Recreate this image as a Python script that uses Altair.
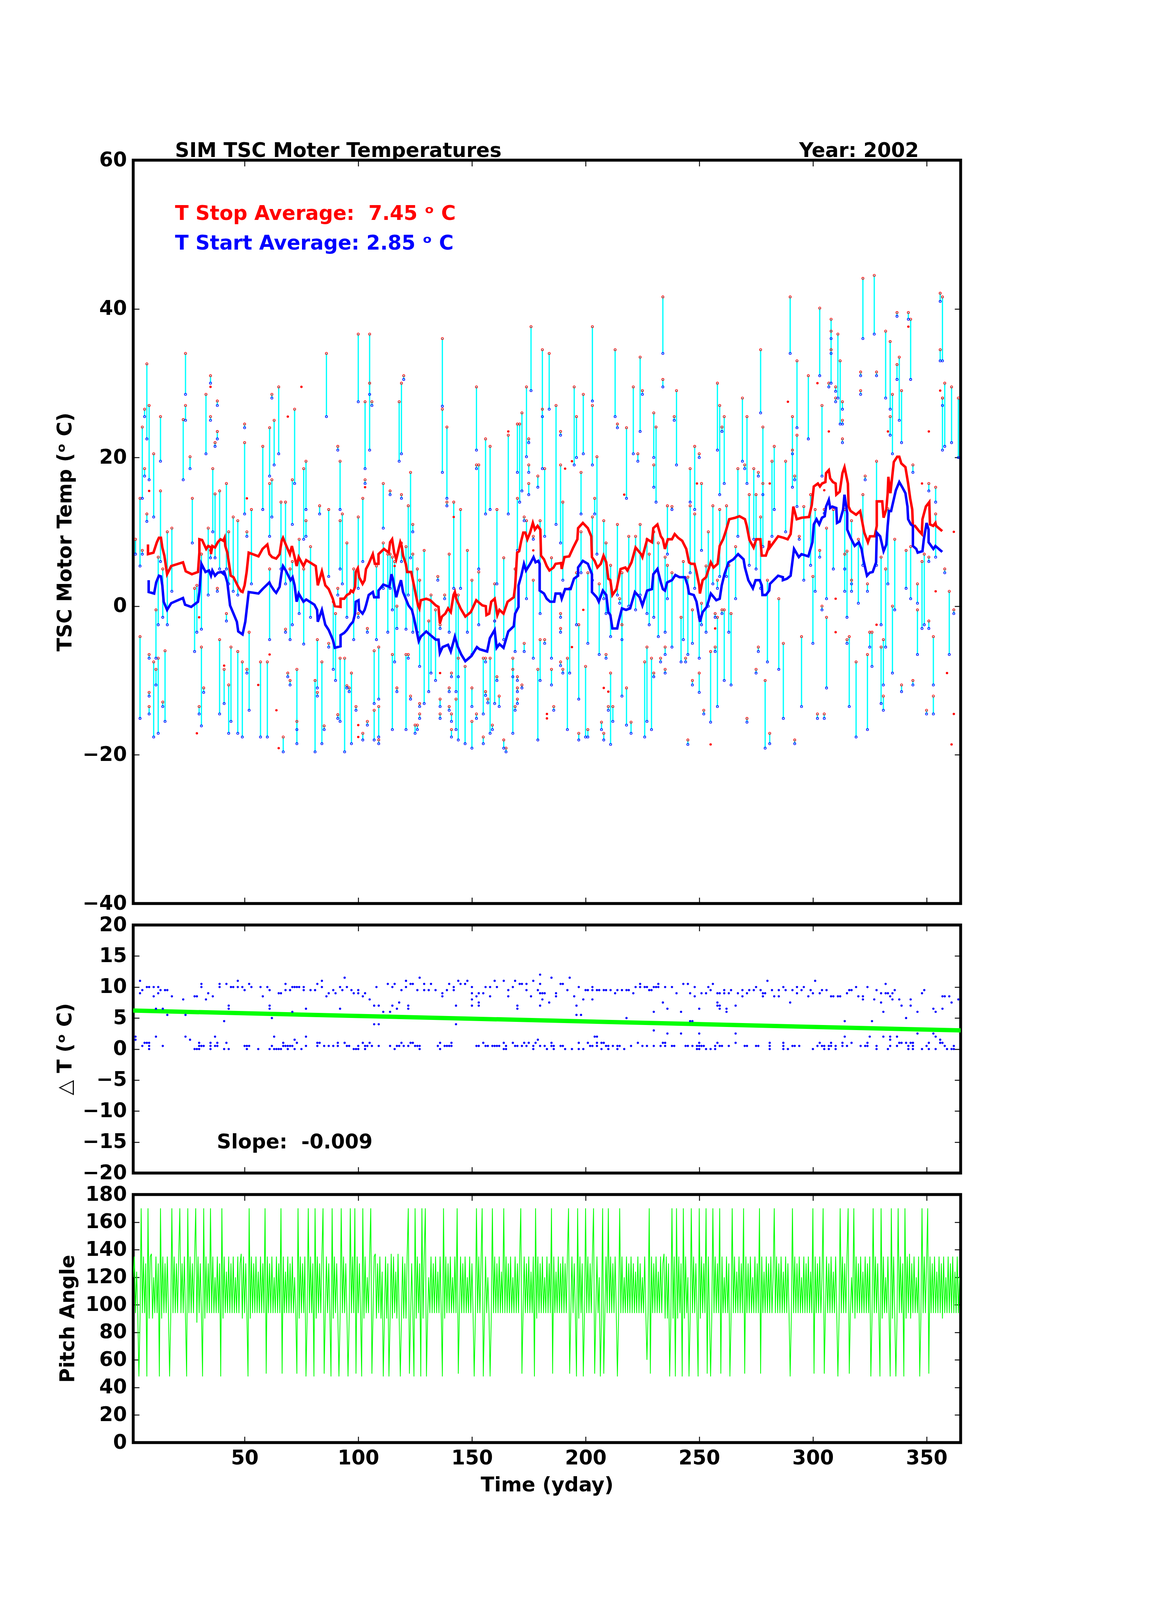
import altair as alt
import pandas as pd

FONT = "DejaVu Sans"

# ---------------- data ----------------
# TSC motor events: (yday, T stop, T start)
events = [
(2,9.0,7.0),(4,14.5,5.4),(4,-4.1,-15.1),(5,24.1,14.5),(5,7.5,7.0),(6,26.5,25.5),(6,18.5,17.5),
(7,32.6,22.5),(7,12.4,11.4),(8,27.0,17.0),(8,-6.5,-7.0),(8,-11.6,-12.1),(8,-13.5,-14.5),
(10,20.5,12.0),(10,-7.5,-17.6),(11,-0.5,-7.0),(11,-8.5,-10.6),(12,6.6,-2.5),(12,-7.0,-17.1),
(13,25.5,19.5),(13,15.5,6.0),(14,5.0,-1.5),(14,-12.9,-13.5),(15,-6.0,-15.5),(16,10.0,-2.5),
(18,10.5,2.0),(23,25.1,17.0),(24,34.0,28.5),(24,27.0,25.0),(26,20.1,18.5),(27,14.5,8.5),
(28,2.4,-6.1),(29,2.8,-3.5),(30,-13.5,-14.5),(31,7.0,-3.1),(31,-5.5,-16.1),(32,-11.0,-11.6),
(33,28.5,20.5),(34,10.5,1.5),(35,31.0,30.0),(35,25.5,25.0),(35,7.5,6.5),(36,18.5,10.0),
(37,15.1,6.5),(37,22.0,21.5),(38,27.6,27.0),(38,23.5,22.5),(38,2.4,2.0),(39,15.5,5.0),
(39,-4.5,-14.5),(41,-8.5,-13.1),(42,16.5,5.0),(42,-1.0,-2.0),(43,10.0,3.0),(43,-10.6,-17.1),
(44,-5.5,-15.5),(45,12.0,2.0),(47,11.5,1.5),(47,-6.1,-17.1),(49,-7.5,-17.6),(50,24.5,24.0),
(50,22.0,12.4),(51,10.0,9.4),(51,-8.5,-9.0),(52,-3.5,-14.0),(53,13.0,3.0),(57,-7.5,-17.6),
(58,21.5,13.0),(60,-7.5,-17.6),(61,24.0,17.5),(61,16.5,9.4),(61,5.0,-4.5),(62,28.5,28.0),
(62,17.0,12.0),(63,25.0,19.0),(65,29.5,20.5),(66,14.0,5.0),(67,-17.6,-19.6),(68,14.0,3.0),
(68,-3.1,-3.5),(69,-9.0,-9.5),(70,5.0,-4.5),(70,-10.0,-10.6),(71,17.0,11.0),(71,6.0,-2.5),
(72,26.5,16.5),(73,-8.5,-18.5),(73,-15.5,-16.6),(74,9.0,-1.0),(76,18.5,9.0),(76,5.0,-5.1),
(77,19.5,13.0),(77,11.5,9.4),(79,8.0,-1.5),(81,-10.0,-19.6),(82,-4.5,-11.0),(82,-11.6,-12.1),
(83,13.5,12.4),(84,-7.5,-18.5),(85,-16.1,-16.6),(86,34.0,25.5),(87,13.0,4.0),(87,-5.0,-5.5),
(89,0.6,-8.5),(90,-1.0,-10.0),(91,21.5,21.0),(91,2.4,1.5),(91,-14.6,-15.1),(92,19.5,13.0),
(92,11.5,5.0),(92,-7.0,-15.5),(93,12.4,3.0),(94,-7.0,-19.6),
(95,8.5,-1.5),(95,-10.7,-11.0),(96,-11.0,-11.5),(97,-9.0,-18.5),(98,5.0,-4.5),(99,-13.5,-14.0),
(100,36.6,27.5),(100,12.0,2.4),(100,-1.0,-1.5),(102,14.5,6.0),(102,-17.1,-18.0),(103,27.5,18.5),
(103,17.0,16.5),(104,-3.0,-3.5),(104,-15.5,-16.0),(105,36.6,28.5),(105,30.0,21.0),(106,27.5,27.0),
(107,-6.0,-13.1),(107,-14.0,-18.0),(108,5.4,-4.5),(109,-5.5,-12.5),(109,-13.5,-17.6),(109,-18.0,-18.5),
(111,16.5,10.5),(111,8.5,2.4),(113,7.0,-3.5),(114,15.5,15.0),(114,7.0,2.4),(115,6.6,-0.5),
(115,-6.5,-16.6),(116,6.0,-7.5),(117,0.0,-3.0),(117,-11.0,-11.5),(118,27.5,19.5),(119,30.0,20.5),
(119,15.0,14.5),(119,8.5,6.0),(120,31.0,30.5),(121,8.0,-3.1),(121,-6.5,-16.6),(122,13.5,1.5),
(122,-6.5,-7.0),(123,18.0,6.5),(123,-12.1,-12.5),(124,7.0,-3.5),(124,11.0,10.0),(125,-16.0,-17.1),
(126,5.0,-3.5),(126,-16.0,-16.6),(127,3.5,-8.1),(127,-13.1,-13.5),(127,-14.5,-15.1),(129,7.5,-13.1),
(131,-2.0,-11.5),(132,1.5,-9.0),(134,-0.5,-10.0),(135,4.0,3.5),(136,-12.5,-13.5),(136,-14.5,-15.1),
(136,-2.5,-3.0),(137,36.0,26.9),(137,26.5,18.0),(138,1.5,1.0),(139,24.1,14.5),(139,14.0,13.5),
(140,7.0,-3.5),(140,-11.0,-11.5),(140,-13.5,-14.0),(141,-9.0,-9.5),(141,-14.5,-15.5),(141,-16.6,-17.6),
(142,14.0,2.4),(143,1.5,-11.5),(143,-12.5,-16.6),(144,1.5,-9.5),(144,-7.0,-18.0),(145,13.0,2.4),
(147,-8.1,-18.5),(148,7.5,-3.5),(150,3.5,-6.5),(150,-11.0,-13.5),(150,-15.5,-19.1),(152,29.5,21.0),
(152,19.0,18.5),(152,-14.5,-15.1),(153,19.0,5.0),(153,4.6,-2.5),(155,-7.0,-14.5),(155,-17.6,-18.5),
(156,22.5,12.4),(156,-7.0,-7.5),(156,-11.5,-12.0),(157,-12.5,-13.0),(158,21.5,13.0),(158,-7.0,-17.1),
(159,-16.0,-16.6),(160,3.0,-2.0),(160,-2.0,-13.1),(161,13.0,3.0),(161,-9.5,-10.0),(162,-12.1,-13.5),
(164,6.5,-4.5),(164,-18.0,-19.1),(165,-19.1,-19.6),(166,23.0,12.4),(168,-7.0,-17.1),(168,-8.5,-9.5),
(169,5.0,-6.1),(169,-13.5,-14.0),(170,24.5,18.0),(170,14.5,7.5),(170,-9.5,-10.0),(170,-11.0,-11.5),
(170,-12.5,-13.1),(171,24.5,14.0),(172,26.0,15.5),(172,-10.6,-11.0),(173,12.0,11.5),(173,-5.0,-6.1),
(174,29.5,20.1),(174,11.5,1.0),(175,22.5,22.0),(175,19.0,18.0),(175,16.5,15.0),(176,37.6,29.0),
(177,9.4,9.0),(177,3.5,-7.0),(179,17.5,16.0),(179,-8.5,-18.0),(180,11.5,-1.0),(180,-4.5,-10.0),
(181,34.5,25.5),(181,26.5,18.5),(182,18.5,9.4),(182,-4.5,-5.0),(184,34.0,26.5),(185,6.5,-7.0),
(185,-8.5,-10.6),(186,-13.5,-14.0),(187,27.0,11.0),(189,23.5,23.0),(189,19.0,8.5),(189,-1.0,-1.5),
(189,-3.0,-3.5),(189,-7.5,-8.0),(190,14.0,3.5),(190,-8.5,-9.0),(192,-7.0,-16.6),(193,2.4,-9.0),
(195,29.5,19.0),(196,25.5,20.0),(196,4.5,-2.5),(197,-2.5,-12.5),(197,-17.1,-18.0),(198,18.0,12.4),
(198,10.0,4.5),(199,28.5,20.5),(200,-8.1,-17.6),(201,4.5,-5.0),(201,-16.6,-17.6),(203,37.6,27.6),
(203,27.0,19.0),(203,12.0,3.5),(204,14.5,12.4),(205,20.1,7.0),(206,3.0,-6.5),(207,-15.6,-16.6),
(208,11.5,1.0),(208,-17.1,-18.0),(209,8.5,-1.0),(209,-6.5,-7.0),(210,-13.5,-14.0),(211,5.5,-4.1),
(211,-9.0,-18.6),(212,-13.5,-15.5),(213,34.5,25.5),(214,24.5,24.0),(214,11.0,1.5),(215,1.0,0.4),
(216,4.5,-4.5),(216,-2.5,-12.1),(218,24.0,14.5),(218,-11.0,-16.0),(219,9.4,0.0),(220,-15.6,-17.1),
(221,29.5,20.5),(222,9.4,-0.5),(223,20.5,19.5),(224,33.5,23.5),(224,11.0,1.5),(225,29.0,28.5),
(226,-7.5,-17.6),(227,9.0,-1.0),(227,-5.5,-15.5),(228,7.0,-2.5),(229,-7.0,-16.6),(230,26.0,20.0),
(230,19.0,16.0),(230,10.0,-1.5),(230,-9.0,-9.5),(231,24.1,14.0),(232,8.5,-4.1),(233,-7.0,-7.5),
(234,41.6,34.0),(234,30.5,29.5),(235,6.6,-3.5),(235,-5.5,-6.5),(235,-8.5,-9.0),(236,13.5,7.0),
(236,5.5,1.0),(238,13.4,13.0),(238,4.5,-5.5),(239,25.5,25.0),(240,29.0,19.0),(242,-1.5,-7.5),
(243,6.0,-4.5),(244,-7.0,-7.5),(245,3.9,-6.5),(245,-18.0,-18.6),(246,18.5,14.0),(246,13.5,4.5),
(247,-0.5,-5.0),(247,-10.0,-10.6),(248,21.5,13.0),(248,12.4,2.4),(250,20.5,20.0),(250,-1.5,-7.0),
(250,-9.0,-11.6),(251,16.5,7.5),(251,0.4,-2.5),(252,-14.0,-14.5),(253,5.4,-3.5),(254,10.0,0.0),
(255,-6.1,-15.6),(256,13.5,3.0),(257,-1.0,-1.5),(257,-5.5,-6.1),(258,30.0,21.0),(258,3.5,2.4),
(258,-1.5,-13.5),(259,27.0,15.0),(259,13.0,4.0),(260,24.1,23.5),(260,-0.5,-1.0),(261,25.5,16.5),
(261,-0.5,-10.0),(262,13.5,4.0),(263,5.5,-3.5),(264,-1.0,-10.6),(266,8.0,1.0),(267,18.5,9.4),
(269,28.0,19.5),(270,19.0,18.5),(271,25.5,16.5),(271,-15.1,-15.6),(272,15.0,5.5),(274,18.5,9.0),
(275,15.0,5.0),(275,-8.5,-9.0),
(276,18.0,17.5),(276,-5.5,-6.1),(277,34.5,26.0),(277,12.0,2.4),(278,24.1,15.0),(278,16.5,8.0),
(279,-10.0,-19.1),(280,3.5,-7.5),(281,-17.1,-18.5),(282,19.5,9.4),(283,21.5,13.0),(285,1.0,-8.5),
(287,-5.0,-15.1),(288,19.5,10.0),(290,41.6,34.0),(291,25.5,16.0),(291,21.0,20.5),(292,17.5,17.0),
(292,-18.0,-18.5),(293,33.0,24.0),(293,23.0,13.4),(294,9.4,9.0),(295,-4.1,-13.5),(296,13.4,3.5),
(298,31.0,22.5),(299,15.0,5.5),(300,4.0,-5.0),(301,13.0,2.0),(302,-14.5,-15.1),(303,40.1,31.0),
(303,7.5,6.6),(304,27.0,17.5),(304,0.0,-0.5),(305,13.0,12.5),(305,-14.5,-15.1),(306,10.5,1.0),
(306,-1.5,-11.0),(307,30.0,29.5),(308,38.6,30.0),(308,37.0,36.0),(308,34.5,34.0),(309,13.0,5.0),
(310,29.5,28.9),(310,28.0,27.5),(311,36.6,28.0),(312,33.0,24.5),(313,27.5,26.5),(313,25.0,24.5),
(313,22.5,22.0),(314,13.0,2.0),(314,7.0,5.0),(315,7.4,-1.5),(315,-4.5,-5.0),(316,-4.1,-13.5),
(317,11.5,2.0),(317,3.5,3.0),(319,-7.5,-17.6),(320,9.0,0.4),(321,31.5,31.0),(321,29.0,28.5),
(322,44.1,36.0),(322,15.0,5.5),(323,17.5,17.0),(324,-6.5,-16.6),(324,3.0,2.0),(325,-3.5,-5.5),
(326,-3.5,-8.1),(327,44.5,36.6),(328,19.5,5.5),(328,31.5,31.0),(330,6.6,-2.5),(330,-5.5,-13.1),
(331,-4.5,-10.6),(331,-12.1,-14.0),(332,37.0,28.0),(332,5.0,-5.5),(333,13.1,3.0),(334,35.6,26.5),
(334,25.5,23.0),(335,28.5,20.5),(335,0.0,-9.0),(336,9.0,-0.5),(337,39.5,39.0),(337,32.5,30.5),
(338,33.5,25.0),(339,29.0,22.0),(339,-10.6,-11.5),(341,7.5,2.4),(342,39.5,38.6),(343,38.6,30.5),
(343,8.0,1.0),(344,19.0,18.0),(344,-10.0,-10.6),(346,3.0,0.4),(346,-0.5,-6.5),(348,6.0,-3.0),
(349,7.0,-2.5),(350,-14.0,-14.5),(351,16.5,15.5),(351,6.6,6.0),(351,-2.0,-3.0),(353,-4.1,-10.6),
(353,-12.1,-14.5),(354,16.0,14.0),(354,12.4,6.6),(356,42.1,41.0),(356,34.5,33.0),(357,41.6,33.0),
(357,28.0,27.0),(357,28.0,21.0),(358,30.0,21.5),(358,5.0,4.5),(360,2.0,-6.5),(361,29.5,22.0),
(362,-0.5,-1.0),(364,28.0,20.0),
]

# stop readings with no start partner: (yday, T stop)
lone_stop = [
(8,15.5),(29,-17.1),(30,-1.5),(35,29.5),(41,-8.0),(51,14.5),(56,-10.6),(61,-6.5),(64,-14.0),
(65,-19.1),(69,25.5),(75,29.5),(100,-16.0),(100,-17.6),(103,16.0),(116,5.4),(136,-9.0),(142,12.0),
(166,23.5),(177,7.5),(183,-14.5),(183,-15.1),(191,18.5),(194,19.5),(194,-5.5),(199,-0.5),
(208,-11.0),(210,-11.5),(217,15.0),(249,16.5),(255,-18.6),(257,-3.0),(281,16.5),(289,27.5),
(302,30.0),(305,15.6),(307,23.5),(310,1.0),(310,-3.5),(328,-2.5),(333,23.5),(342,37.6),
(348,16.5),(351,23.5),(354,2.0),(356,29.0),(359,-9.0),(361,-18.6),(362,10.0),(362,-14.5),
]

# running averages (yday, temp)
stop_avg = [
(7.5,8.3),(7.5,7.0),(9.9,7.2),(11.4,8.6),(12.3,9.2),(13.2,9.2),(13.8,7.9),(14.7,6.8),(15.9,4.3),
(17.7,5.4),(22.9,5.9),(24.1,4.7),(26.8,4.3),(29.5,4.6),(30.1,7.2),(30.1,9.0),(31.3,8.9),(33.1,7.7),
(34.0,8.1),(35.2,7.9),(35.2,7.0),(35.8,8.1),(37.0,7.9),(38.2,8.6),(39.4,9.0),(40.6,8.8),(41.2,9.2),
(41.5,8.1),(42.4,7.2),(43.3,5.4),(43.9,4.1),(45.1,3.9),(47.2,2.6),(48.4,2.0),(49.1,1.9),(50.0,2.8),
(50.9,4.6),(51.8,7.2),(56.1,6.7),(57.9,7.7),(60.0,8.3),(60.9,7.0),(62.1,6.6),(63.9,6.4),(65.4,7.0),
(66.3,8.8),(66.9,9.2),(68.1,8.3),(69.9,7.0),(70.8,8.1),(72.0,6.6),(72.9,5.4),(73.8,6.6),(75.9,5.4),
(77.1,6.2),(81.3,5.4),(82.2,2.8),(84.0,4.7),(85.5,2.8),(87.0,2.3),(88.8,1.0),(89.7,0.0),(92.2,-0.1),
(92.2,1.0),(93.8,1.0),(95.0,1.5),(96.2,1.7),(96.8,2.1),(97.7,1.9),(98.6,2.6),(98.9,4.6),(99.8,5.1),
(100.4,3.9),(101.9,3.0),(102.8,3.5),(103.4,5.0),(104.6,5.7),(106.4,7.0),(107.3,5.7),(108.9,5.7),
(108.9,7.0),(111.3,7.7),(113.4,7.2),(114.0,8.6),(114.9,9.0),(115.8,7.2),(116.7,6.3),(118.5,8.6),
(119.1,8.1),(119.7,6.8),(120.9,5.7),(121.5,4.6),(123.3,4.6),(124.5,2.8),(126.3,0.1),(126.9,-0.3),
(127.5,0.8),(129.9,1.0),(131.7,0.8),(134.1,0.1),(135.3,-0.1),(135.9,-2.3),(136.8,-1.4),(138.3,-1.0),
(139.5,-0.3),(140.7,-0.8),(141.9,1.5),(142.5,1.9),(143.1,1.0),(145.0,-0.3),(147.1,-1.4),(149.5,-0.8),
(151.9,0.8),(154.6,0.1),(156.1,0.0),(156.4,-1.2),(157.6,-1.0),(158.5,0.6),(160.0,1.0),(161.2,-1.2),
(162.1,-0.5),(163.9,-1.0),(165.7,0.6),(168.4,1.2),(169.0,2.6),(169.9,7.2),(170.8,7.4),(171.7,8.8),
(172.6,9.9),(173.5,9.9),(174.4,9.0),(175.6,9.9),(176.8,11.2),(177.7,10.3),(178.9,10.8),(180.1,10.3),
(180.4,6.8),(181.7,6.3),(182.9,5.4),(184.1,4.8),(185.9,5.2),(186.8,5.7),(189.2,5.8),(189.5,5.0),
(190.7,6.6),(192.8,6.7),(194.6,7.9),(196.4,9.0),(196.7,10.5),(198.8,11.2),(201.0,10.5),(202.5,9.4),
(202.8,6.6),(204.0,6.1),(205.2,5.2),(206.7,5.7),(207.9,6.8),(209.1,5.9),(210.0,3.7),(210.9,3.5),
(211.8,1.5),(213.6,2.3),(215.4,5.0),(217.5,5.2),(218.4,4.8),(220.2,5.9),(222.0,7.9),(224.4,7.0),
(225.0,6.6),(227.1,9.0),(229.2,8.6),(229.8,10.5),(231.6,11.0),(233.1,9.4),(234.0,9.0),(234.9,7.7),
(236.2,9.0),(238.0,9.0),(239.2,9.7),(240.7,9.2),(242.5,8.8),(244.3,7.7),(245.5,5.9),(246.4,5.7),
(247.9,5.7),(248.8,4.6),(250.0,2.8),(250.3,1.7),(251.5,3.5),(253.0,3.9),(255.1,5.9),(256.3,5.2),
(258.1,5.7),(259.0,8.1),(260.5,9.0),(261.7,10.1),(263.2,11.7),(265.9,11.9),(267.7,12.1),(270.1,11.7),
(270.9,10.8),(272.1,8.9),(273.9,7.9),(275.1,9.0),(276.9,9.0),(277.5,6.8),(279.3,6.8),(280.5,7.9),
(280.8,8.8),(281.1,7.9),(284.7,9.4),(287.1,9.2),(288.9,9.0),(290.2,9.7),(291.4,13.4),(292.9,11.7),
(295.0,11.9),(298.3,12.0),(299.5,13.6),(300.4,16.1),(302.2,16.5),(303.1,16.1),(304.0,16.5),
(305.5,16.7),(305.8,17.9),(307.0,18.3),(307.6,17.2),(308.8,16.7),(310.0,16.5),(310.3,15.0),
(311.8,15.4),(313.0,17.9),(313.9,18.7),(315.4,16.5),(315.7,13.4),(316.6,12.8),(319.0,12.3),
(320.8,12.8),(322.6,9.9),(324.2,8.6),(325.1,9.4),(327.2,9.4),(328.1,10.8),(328.1,14.1),(330.5,14.1),
(331.1,11.9),(332.3,13.0),(332.9,15.2),(333.2,17.4),(334.1,15.2),(335.6,19.4),(337.1,20.1),
(338.0,20.1),(338.9,19.2),(340.7,18.7),(341.9,16.5),(342.8,14.5),(343.7,13.0),(344.0,10.8),
(344.9,10.8),(346.7,10.1),(347.9,9.7),(348.2,11.7),(349.7,13.4),(351.2,14.0),(351.5,11.0),
(352.9,10.8),(353.9,11.2),(354.2,10.8),(356.9,10.1),
]
start_avg = [
(7.8,3.5),(7.8,1.9),(10.2,1.7),(11.1,3.2),(12.3,4.1),(13.2,4.0),(13.8,2.8),(14.4,0.6),(15.9,-0.5),
(17.7,0.4),(22.9,1.1),(23.8,0.2),(26.5,-0.1),(29.5,0.6),(30.1,1.9),(31.0,5.7),(32.8,4.6),(34.3,4.8),
(35.2,4.1),(35.8,4.8),(37.0,4.1),(38.2,4.5),(39.7,4.6),(40.9,4.3),(40.9,4.8),(42.4,3.2),(43.6,0.1),
(45.1,-1.0),(46.6,-2.1),(47.2,-3.4),(49.1,-3.8),(50.3,-2.1),(51.8,1.9),(56.1,1.7),(57.9,2.3),
(60.9,3.2),(61.5,2.8),(63.0,2.1),(63.9,1.8),(65.4,2.6),(66.3,4.6),(66.9,5.4),(68.1,4.8),(70.2,3.5),
(71.1,3.9),(72.0,2.8),(72.9,0.6),(73.8,1.7),(75.9,0.6),(77.1,0.9),(80.7,0.2),(81.9,-0.5),(82.2,-2.1),
(84.0,-0.5),(85.5,-2.5),(87.0,-3.2),(88.8,-4.5),(89.7,-5.6),(92.2,-5.4),(92.2,-3.9),(93.8,-3.6),
(95.0,-3.2),(96.5,-2.5),(97.7,-2.1),(98.6,-1.0),(98.9,0.6),(100.1,0.8),(100.4,-0.5),(101.9,-1.0),
(102.8,-0.5),(103.4,0.1),(104.6,1.5),(106.4,1.9),(107.0,1.2),(108.9,1.2),(108.9,2.1),(111.0,2.9),
(113.7,2.6),(114.6,4.3),(115.2,3.7),(116.7,1.2),(117.9,2.6),(118.8,3.5),(119.7,1.9),(120.9,1.0),
(122.1,0.1),(123.6,-0.5),(124.5,-1.6),(126.6,-4.7),(127.5,-4.1),(129.9,-3.4),(134.1,-4.5),
(135.3,-4.5),(135.9,-6.3),(137.1,-5.5),(139.5,-5.2),(140.7,-6.1),(142.5,-4.1),(143.7,-5.4),
(145.3,-6.5),(147.1,-7.4),(149.8,-6.7),(152.2,-5.5),(153.4,-5.8),(156.7,-6.1),(157.9,-4.3),
(160.0,-3.2),(160.9,-5.6),(162.1,-5.1),(163.9,-5.6),(166.0,-3.4),(168.4,-2.7),(169.0,-1.0),
(170.5,-0.1),(170.5,2.8),(171.7,4.1),(172.9,5.7),(173.8,4.8),(175.6,5.7),(177.1,6.6),(178.0,5.9),
(179.2,6.1),(179.8,5.7),(179.8,2.1),(181.7,1.7),(182.9,1.0),(184.4,0.6),(186.2,0.6),(186.8,1.7),
(188.9,1.7),(189.5,1.0),(191.0,2.3),(193.4,2.3),(194.9,3.7),(196.7,4.1),(196.7,5.2),(198.8,6.1),
(201.0,5.7),(202.8,4.3),(202.8,1.9),(204.9,1.2),(205.8,0.6),(207.6,2.1),(209.1,1.5),(210.0,-0.8),
(210.9,-1.2),(211.8,-3.0),(213.9,-3.0),(214.5,-2.1),(216.0,-0.3),(217.8,-0.5),(219.6,-0.3),
(221.7,1.9),(223.8,1.2),(225.0,0.1),(227.1,2.1),(229.2,2.3),(229.8,4.3),(231.6,5.0),(233.1,3.2),
(234.0,2.3),(234.9,2.1),(235.9,3.2),(238.0,3.5),(239.5,4.2),(241.3,3.9),(243.7,3.9),(244.9,2.8),
(245.5,1.7),(247.6,1.5),(248.8,0.6),(250.3,-2.1),(251.5,-0.8),(253.3,-0.1),(255.1,1.7),(257.5,0.8),
(259.0,1.0),(259.9,2.8),(261.1,4.3),(262.9,5.9),(265.0,6.3),(267.1,7.0),(269.5,6.3),(270.1,5.2),
(271.6,3.5),(273.6,2.4),(274.8,3.5),(276.6,3.5),(277.5,2.8),(277.8,1.5),(279.3,1.5),(280.8,2.1),
(281.1,3.0),(284.7,4.1),(286.8,3.9),(286.8,3.5),(288.6,3.7),(290.2,4.1),(291.7,7.7),(293.8,6.6),
(295.0,7.0),(298.0,6.7),(299.8,8.6),(300.4,11.0),(301.6,11.7),(302.8,11.0),(304.0,11.9),
(305.2,12.1),(305.8,13.4),(307.0,14.3),(307.6,13.2),(308.5,13.4),(310.3,13.2),(310.6,11.2),
(311.8,11.4),(313.3,13.0),(313.9,15.0),(315.1,12.5),(315.1,10.3),(316.6,9.2),(318.4,8.1),
(320.2,8.6),(321.4,7.7),(322.3,6.1),(323.8,4.1),(325.0,4.5),(326.3,4.6),(327.8,5.9),(328.1,9.9),
(329.6,9.4),(331.1,7.4),(332.3,8.3),(332.9,10.8),(333.5,12.8),(334.4,12.8),(336.5,15.6),
(338.0,16.7),(339.5,15.9),(340.7,15.2),(341.6,13.4),(341.9,11.7),(343.1,11.0),(344.0,10.8),
(344.0,8.1),(345.5,7.7),(346.1,7.2),(348.2,7.4),(348.8,9.0),(350.0,11.2),(350.9,10.3),(350.9,8.6),
(353.0,7.7),(353.9,8.1),(356.9,7.3),
]

# Delta T (stop - start) per event: (yday, dT)
delta = [
(2,2.0),(2,1.5),(4,11.0),(4,9.0),(5,9.5),(5,0.5),(6,1.0),(7,10.0),(7,1.0),(8,10.0),(8,1.0),(8,0.5),
(8,0.0),(10,10.0),(10,8.5),(11,6.5),(11,2.0),(12,10.0),(12,9.0),(13,9.5),(14,6.5),(14,0.5),(15,9.5),
(16,9.5),(16,5.5),(18,8.5),(23,8.0),(24,5.5),(24,2.0),(26,1.5),(28,8.5),(28,0.0),(29,8.5),(29,0.0),
(30,1.0),(30,0.5),(30,0.0),(31,10.5),(31,10.0),(31,0.5),(32,0.5),(33,8.0),(34,9.0),(35,1.0),(35,0.5),
(35,0.0),(36,8.5),(37,2.0),(37,0.5),(38,1.0),(38,0.5),(39,10.5),(39,10.0),(41,4.5),(41,0.0),
(42,10.5),(42,1.0),(43,7.0),(43,6.5),(43,0.0),(44,10.0),(45,10.0),(47,11.0),(47,10.0),(49,10.0),
(50,9.5),(50,0.5),(51,0.5),(51,0.0),(52,10.5),(52,0.5),(53,10.0),(56,0.0),(57,10.0),(58,8.5),
(60,10.0),(61,9.5),(61,7.0),(61,6.5),(61,0.0),(62,5.0),(62,0.5),(63,2.0),(63,0.0),(64,0.0),(65,9.0),
(65,0.0),(66,9.0),(66,0.0),(67,1.0),(67,0.5),(68,10.5),(68,9.5),(68,0.5),(69,0.0),(69,0.5),(70,9.5),
(70,0.5),(71,10.0),(71,6.0),(71,0.5),(72,10.0),(72,1.5),(72,0.0),(73,10.0),(73,1.0),(74,10.0),
(75,0.0),(76,10.0),(76,9.5),(77,6.5),(77,2.0),(77,0.5),(79,9.5),(81,9.5),(82,10.5),(82,1.0),(82,0.5),
(83,1.0),(84,11.0),(84,10.0),(85,0.5),(86,8.5),(87,9.0),(87,0.5),(89,9.5),(89,0.5),(90,9.0),(91,1.0),
(91,0.5),(92,10.0),(92,6.5),(93,9.5),(94,11.5),(94,1.0),(95,10.0),(95,0.5),(96,0.5),(97,9.5),(98,9.0),
(98,0.0),(99,0.0),(100,9.5),(100,9.0),(100,0.5),(100,0.0),(102,8.5),(102,1.0),(103,9.0),(103,0.5),
(103,0.0),(104,0.5),(105,8.0),(105,1.0),(106,0.5),(107,7.0),(107,4.0),(108,10.0),(109,7.0),(109,4.0),
(109,0.5),(111,6.0),(113,10.5),(114,6.0),(114,0.5),(115,10.0),(115,7.0),(116,10.5),(116,0.0),
(117,6.5),(117,0.5),(118,7.5),(118,0.5),(119,9.5),(119,1.0),(120,0.5),(121,11.0),(121,10.0),(122,7.0),
(122,6.5),
(123,10.5),(124,10.5),(126,9.5),(127,11.5),(129,10.5),(129,9.5),(131,9.5),(132,10.5),(134,9.5),
(137,9.0),(137,8.5),(139,9.5),(140,10.5),(142,10.0),(142,9.5),(143,7.0),(143,4.0),(144,11.0),
(145,10.5),(147,10.5),(148,11.0),(150,10.0),(150,9.0),(150,8.0),(150,7.0),(152,8.5),(153,9.0),
(153,7.5),(153,7.0),(155,9.0),(156,10.0),(158,10.0),(158,8.5),(160,11.0),(161,10.0),(164,11.0),
(166,9.5),(166,8.5),(168,10.0),(169,11.0),(170,7.0),(170,6.5),(171,10.5),(172,10.5),(174,10.5),
(174,9.5),(176,8.5),(177,11.0),(179,9.5),(180,12.0),(180,10.5),(180,9.0),(180,7.0),(181,9.0),
(181,8.0),(182,9.0),(184,7.5),(185,11.5),(187,9.0),(187,8.5),(189,10.5),(190,10.5),(192,9.5),
(193,11.5),(195,8.5),(196,7.0),(196,5.5),(197,10.0),(198,5.5),(199,8.0),(200,9.5),(201,9.5),
(203,10.0),(203,9.5),(203,8.0),(205,9.5),(206,9.5),(208,9.5),(209,9.5),(211,9.5),(213,9.0),
(214,9.5),(216,9.5),(218,9.5),(219,9.5),(221,9.0),(218,5.0),(222,10.0),(224,10.5),(224,10.0),
(226,10.0),(227,10.0),(228,9.5),(229,9.5),(230,10.0),(230,6.0),(231,10.0),(232,10.5),(232,10.0),
(234,7.5),(235,10.0),(236,6.5),(238,10.0),(240,9.0),(242,6.0),(243,10.5),(245,10.5),(246,9.0),
(246,4.5),(247,4.5),(248,10.0),(248,8.5),(250,6.5),(251,9.0),(253,9.0),(254,10.0),(255,9.5),
(256,10.5),(258,9.0),(258,7.5),(258,7.0),(259,9.0),(259,7.0),(259,6.5),(261,9.5),(261,9.0),
(262,6.5),(262,6.0),(263,9.0),(264,9.5),(266,7.0),(267,9.0),(269,9.5),(269,8.5),(271,9.0),
(272,9.5),(274,9.5),(275,10.0),(277,9.5),(278,9.0),(278,8.5),(279,9.0),(280,11.0),(282,9.5),
(283,8.5),(285,9.5),(285,8.5),(287,10.0),(288,9.5),(290,7.5),(291,9.5),(293,10.0),(293,9.0),
(295,9.5),(296,10.0),(298,8.5),(299,9.5),(300,9.0),(301,11.0),(303,9.0),(304,9.5),(306,9.5),
(308,8.5),(309,8.5),(311,8.5),(312,8.5),(314,4.5),(315,9.0),(316,9.5),(317,9.5),(319,10.0),
(320,8.5),(322,8.5),(322,8.0),(324,10.0),(326,4.5),(327,8.0),(328,9.5),(330,9.0),(330,7.5),
(331,6.0),(332,10.5),(332,9.0),(333,9.0),(334,8.5),(335,9.0),(335,8.0),(336,9.5),(338,8.0),
(339,7.0),(341,5.0),(343,8.0),(343,7.0),(346,6.0),(348,9.0),(349,9.5),(353,6.5),(354,6.0),
(357,6.5),(357,8.5),(358,8.5),(360,8.5),(361,7.5),(364,8.0),
(122,0.5),(123,1.0),(124,1.0),(125,0.5),(126,0.5),(127,0.5),(127,0.0),(135,0.5),(136,1.0),(136,0.0),
(138,0.5),(139,0.5),(140,0.5),(141,1.0),(141,0.5),(152,0.5),(153,0.5),(155,1.0),(156,0.5),(157,0.5),
(159,0.5),(160,0.5),(161,0.5),(162,0.5),(164,1.0),(164,0.0),(165,0.5),(165,0.0),(168,1.0),(169,0.5),
(170,0.5),(172,0.5),(173,1.0),(174,0.5),(175,1.0),(177,0.5),(177,0.0),(178,1.0),(179,1.5),(180,0.5),
(182,0.5),(183,0.0),(185,1.0),(185,0.5),(186,0.5),(186,0.0),(189,0.5),(190,0.5),(191,0.0),(194,0.0),
(197,1.0),(197,0.0),(199,0.0),(201,1.0),(202,0.5),(203,0.5),(204,2.0),(205,2.0),(205,1.0),(205,0.5),
(207,1.0),(207,0.0),(208,1.0),(209,0.5),(210,0.5),(210,0.0),(212,0.5),(214,0.5),(214,0.0),(215,0.5),
(217,0.0),(220,0.5),(223,1.0),(225,0.5),(227,0.5),(230,3.0),(230,0.5),(233,0.5),(234,1.0),(235,1.0),
(235,0.5),(236,2.5),(238,0.5),(239,0.5),(242,2.5),(244,0.5),(245,0.5),(247,0.5),(249,0.5),(249,0.0),
(250,2.5),(250,1.0),(250,0.5),(250,0.0),(251,0.5),(252,0.5),(253,0.0),(255,0.0),(257,0.5),(257,0.0),
(258,1.0),(259,0.5),(260,0.5),(263,0.5),(266,2.5),(266,1.0),(270,0.5),(271,0.5),(275,0.5),(276,0.5),
(281,1.0),(281,0.5),(281,0.0),(287,1.0),(287,0.5),(287,0.0),(289,0.0),(291,0.5),(292,0.5),(294,0.5),
(300,0.0),(302,0.5),(303,1.0),(304,0.5),(305,0.5),(305,0.0),(307,0.5),(307,0.0),(308,1.0),(308,0.5),
(310,0.5),(310,0.0),(313,1.0),(313,0.5),(314,2.0),(315,0.5),(317,1.0),(321,0.5),(323,0.5),(324,1.0),
(324,0.5),(325,2.0),(328,0.5),(328,0.0),(331,2.0),(333,0.0),(334,2.0),(334,1.5),(334,0.5),(337,2.0),
(337,0.5),(338,1.0),(339,1.0),(341,1.0),(342,0.5),(342,0.0),(343,1.0),(344,1.0),(344,0.5),(344,0.0),
(346,2.5),(348,0.0),(350,0.5),(351,1.0),(351,0.0),(353,2.5),(354,2.0),(354,0.0),(356,1.5),(356,1.0),
(357,1.0),(358,0.5),(359,0.0),(361,0.0),(362,0.5),(362,0.0),
]

# fitted trend of Delta T (end points)
fit_day = [1, 365]
fit_val = [6.2, 3.0]
slope_text = "Slope:\u00a0 -0.009"

# pitch angle, sampled every half day from yday 1; one code per sample
pitch_levels = {"a": 94, "b": 135, "c": 120, "d": 124, "e": 130, "f": 90, "g": 87,
                "h": 137, "U": 170, "D": 48, "L": 50, "M": 60}
pitch_codes = (
    "cbadaDfUabaeDUfbhfca" "baeDUfbaeabaDfUabaea" "bUaeabfDUabaeabUgbae" "aDUfbaeaUabacabaeDUf"
    "badabaeabacabaehfbae" "aDUfbaeabadabaeaULba" "eabacabaeaULbadabaea" "bacaLUfbaeabDfUabaeD"
    "UfbaeabULabaeaDUfbae" "aDfUabaeaDfUabaULbae" "aDUfbacabULabhfeabfd" "DfbfeDfhfbadfhfDfbfe"
    "fbULfeaDUfbaeDUfbUDf" "cabaeabadabaDUfbaeab" "acabaULabaeabacabaea" "DfUabaeUDfbacaDfUaba"
    "eabadaUabaeabacabaea" "bULabaeabadabDUfbaea" "bacabaeaULbadabaeaba" "eabULabaeaDUfbaeDfUa"
    "baeabULabacDfULabaUa" "baeabaDfUabacabaeaba" "eadabaeacabaMaULbaea" "badabaehfbfeDfUfbDUf"
    "baeDUfbacDfUabaeaDUf" "baeaULbaDfUabaeaULba" "cabaeDfUabadabaeaULb" "aeabacabaeaULbadabae"
    "abacUabaeabadabaeaDf" "UabaeabacabaeabadaUL" "baeabacULabaeabadaba" "DfUabaeabULacaUfbaea"
    "badabaeabDfUabaeaDUf" "bacabaDUfbaDfUabaeDU" "fbahfeabacabDfUabaeU" "Lbaeabadabaefbacabae"
    "abadabac"
)
pitch_start, pitch_step = 1.0, 0.5

# ---------------- tables ----------------
ev_df = pd.DataFrame(events, columns=["day", "stop", "start"])
lone_df = pd.DataFrame(lone_stop, columns=["day", "stop"])
stop_df = pd.DataFrame(stop_avg, columns=["day", "temp"]).reset_index().rename(columns={"index": "idx"})
start_df = pd.DataFrame(start_avg, columns=["day", "temp"]).reset_index().rename(columns={"index": "idx"})
delta_df = pd.DataFrame(delta, columns=["day", "dt"])
fit_df = pd.DataFrame({"day": fit_day, "dt": fit_val})
pitch_df = pd.DataFrame({
    "day": [pitch_start + pitch_step * i for i in range(len(pitch_codes))],
    "pitch": [pitch_levels[c] for c in pitch_codes],
})

# ---------------- layout (CSS px; the page is shown ~1.097x) ----------------
K = 0.9118
W = round(2323 * K)
H1, H2, H3 = round(2087 * K), round(696 * K), round(696 * K)
FS = round(56 * K)
TK = 15.5
TW = 2.3

xsc = alt.Scale(domain=[1, 365], nice=False, zero=False)
y1sc = alt.Scale(domain=[-40, 60], nice=False, zero=False)
y2sc = alt.Scale(domain=[-20, 20], nice=False, zero=False)
y3sc = alt.Scale(domain=[0, 180], nice=False, zero=False)
XT = [50, 100, 150, 200, 250, 300, 350]


def left_axis(values, title):
    return alt.Axis(orient="left", values=values, title=title, format="d", offset=-TK, tickSize=TK,
                    tickWidth=TW, tickColor="black", domain=False, grid=False, labelPadding=16.4,
                    labelFont=FONT, labelFontSize=FS, labelFontWeight="bold", labelColor="black",
                    titleFont=FONT, titleFontSize=FS, titleFontWeight="bold", titleColor="black",
                    minExtent=0, maxExtent=400, titlePadding=17.5, labelOverlap=False)


def right_axis(values):
    return alt.Axis(orient="right", values=values, title=None, labels=False, offset=-TK, tickSize=TK,
                    tickWidth=TW, tickColor="black", domain=False, grid=False, minExtent=0)


def bottom_axis(labels, title=None):
    return alt.Axis(orient="bottom", values=XT, title=title, labels=labels, format="d", offset=-TK,
                    tickSize=TK, tickWidth=TW, tickColor="black", domain=False, grid=False,
                    labelPadding=15, labelFont=FONT, labelFontSize=FS, labelFontWeight="bold",
                    labelColor="black", titleFont=FONT, titleFontSize=FS, titleFontWeight="bold",
                    titleColor="black", titlePadding=19, labelOverlap=False, minExtent=0)


def top_axis():
    return alt.Axis(orient="top", values=XT, title=None, labels=False, offset=-TK, tickSize=TK,
                    tickWidth=TW, tickColor="black", domain=False, grid=False, minExtent=0)


def text_layer(txt, x, y, color, align="left"):
    return alt.Chart(pd.DataFrame({"t": [txt]})).mark_text(
        align=align, baseline="alphabetic", font=FONT, fontSize=FS, fontWeight="bold", color=color
    ).encode(x=alt.value(x), y=alt.value(y), text="t:N")


# ---------------- top panel ----------------
Y1 = [-40, -20, 0, 20, 40, 60]
segs = alt.Chart(ev_df).mark_rule(color="#00ffff", strokeWidth=3.2, clip=True).encode(
    x=alt.X("day:Q", scale=xsc, axis=bottom_axis(False)),
    y=alt.Y("start:Q", scale=y1sc, axis=left_axis(Y1, "TSC Motor Temp (\u1d52 C)")),
    y2="stop:Q",
)
stop_pts = alt.Chart(ev_df).mark_point(shape="circle", filled=False, color="#ff0000", size=30,
                                       strokeWidth=1.6, opacity=1, clip=True).encode(
    x=alt.X("day:Q", scale=xsc, axis=None), y=alt.Y("stop:Q", scale=y1sc, axis=None))
start_pts = alt.Chart(ev_df).mark_point(shape="circle", filled=False, color="#0000ff", size=30,
                                        strokeWidth=1.6, opacity=1, clip=True).encode(
    x=alt.X("day:Q", scale=xsc, axis=None), y=alt.Y("start:Q", scale=y1sc, axis=None))
lone_pts = alt.Chart(lone_df).mark_circle(color="#ff0000", size=37, opacity=1, clip=True).encode(
    x=alt.X("day:Q", scale=xsc, axis=None), y=alt.Y("stop:Q", scale=y1sc, axis=None))
stop_line = alt.Chart(stop_df).mark_line(color="#ff0000", strokeWidth=6.4, clip=True).encode(
    x=alt.X("day:Q", scale=xsc, axis=None), y=alt.Y("temp:Q", scale=y1sc, axis=None),
    order="idx:Q")
start_line = alt.Chart(start_df).mark_line(color="#0000ff", strokeWidth=6.4, clip=True).encode(
    x=alt.X("day:Q", scale=xsc, axis=None), y=alt.Y("temp:Q", scale=y1sc, axis=None),
    order="idx:Q")
aux1 = alt.Chart(ev_df).mark_point(opacity=0).encode(
    x=alt.X("day:Q", scale=xsc, axis=top_axis()), y=alt.Y("stop:Q", scale=y1sc, axis=right_axis(Y1)))

top = alt.layer(
    segs, stop_pts, start_pts, lone_pts, stop_line, start_line, aux1,
    text_layer("SIM TSC Moter Temperatures", 107, -8, "black"),
    text_layer("Year: 2002", 2011, -8, "black", align="right"),
    text_layer("T Stop Average:\u00a0 7.45 \u1d52 C", 107, 153, "#ff0000"),
    text_layer("T Start Average: 2.85 \u1d52 C", 107, 229, "#0000ff"),
).resolve_axis(x="independent", y="independent").properties(width=W, height=H1)

# ---------------- middle panel ----------------
Y2 = [-20, -15, -10, -5, 0, 5, 10, 15, 20]
fit_line = alt.Chart(fit_df).mark_line(color="#00ff00", strokeWidth=11, clip=True).encode(
    x=alt.X("day:Q", scale=xsc, axis=bottom_axis(False)),
    y=alt.Y("dt:Q", scale=y2sc, axis=left_axis(Y2, "\u25b3 T (\u1d52 C)")),
)
dots = alt.Chart(delta_df).mark_circle(color="#0000ff", size=32, opacity=1, clip=True).encode(
    x=alt.X("day:Q", scale=xsc, axis=None), y=alt.Y("dt:Q", scale=y2sc, axis=None))
aux2 = alt.Chart(delta_df).mark_point(opacity=0).encode(
    x=alt.X("day:Q", scale=xsc, axis=top_axis()), y=alt.Y("dt:Q", scale=y2sc, axis=right_axis(Y2)))
mid = alt.layer(
    fit_line, dots, aux2, text_layer(slope_text, 214, 572, "black")
).resolve_axis(x="independent", y="independent").properties(width=W, height=H2)

# ---------------- bottom panel ----------------
Y3 = [0, 20, 40, 60, 80, 100, 120, 140, 160, 180]
pline = alt.Chart(pitch_df).mark_line(color="#00ff00", strokeWidth=2.0, clip=True).encode(
    x=alt.X("day:Q", scale=xsc, axis=bottom_axis(True, "Time (yday)")),
    y=alt.Y("pitch:Q", scale=y3sc, axis=left_axis(Y3, "Pitch Angle")),
)
aux3 = alt.Chart(pitch_df).mark_point(opacity=0).encode(
    x=alt.X("day:Q", scale=xsc, axis=top_axis()), y=alt.Y("pitch:Q", scale=y3sc, axis=right_axis(Y3)))
bot = alt.layer(pline, aux3).resolve_axis(x="independent", y="independent").properties(width=W, height=H3)

chart = alt.vconcat(top, mid, bot, spacing=55, bounds="flush").properties(
    padding={"left": 129, "top": 349, "right": 20, "bottom": 20},
    background="white",
).configure(font=FONT).configure_view(stroke="black", strokeWidth=7.3)

chart.save("out.html", embed_options={"renderer": "svg", "actions": False})
